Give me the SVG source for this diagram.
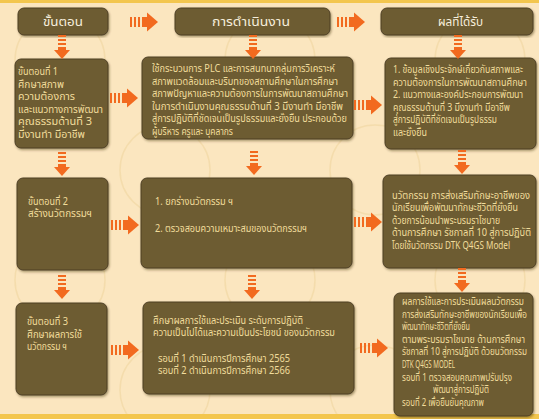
<svg xmlns="http://www.w3.org/2000/svg" width="539" height="419" viewBox="0 0 539 419">
<defs>
<style>
.bg{fill:#fbe6bf}
.box{fill:#6d5b33;stroke:#4f4124;stroke-width:1}
.hd{font-family:"Noto Sans Thai","Noto Sans","DejaVu Sans",sans-serif;font-size:12.5px;fill:#f6eedc}
.t{font-family:"Noto Sans Thai","Noto Sans","DejaVu Sans",sans-serif;font-size:10px;fill:#f1dd9c}
.ar{fill:#f26a1f}
.pat{fill:none;stroke:#f3d9a8;stroke-width:1.5;opacity:0.8}
</style>
<g id="harrow"><rect class="ar" x="0" y="-5" width="2" height="10"/><rect class="ar" x="4" y="-5" width="2" height="10"/><rect class="ar" x="8" y="-5" width="2" height="10"/><rect class="ar" x="12" y="-5" width="6" height="10"/><polygon class="ar" points="17,-9.5 28,0 17,9.5"/></g>
<g id="varrow"><rect class="ar" x="-4" y="0" width="8" height="2"/><rect class="ar" x="-4" y="4" width="8" height="2"/><rect class="ar" x="-4" y="8" width="8" height="2"/><rect class="ar" x="-4" y="12" width="8" height="4"/><polygon class="ar" points="-8,15 8,15 0,24"/></g>
<filter id="sh" x="-5%" y="-5%" width="112%" height="115%"><feDropShadow dx="1" dy="1.5" stdDeviation="1.2" flood-color="#3a2c10" flood-opacity="0.45"/></filter>
</defs>
<rect class="bg" x="0" y="0" width="539" height="419"/>
<g id="pattern">
<circle class="pat" cx="60" cy="60" r="45"/><circle class="pat" cx="270" cy="60" r="45"/><circle class="pat" cx="480" cy="60" r="45"/>
<circle class="pat" cx="165" cy="170" r="45"/><circle class="pat" cx="375" cy="170" r="45"/>
<circle class="pat" cx="60" cy="280" r="45"/><circle class="pat" cx="270" cy="280" r="45"/><circle class="pat" cx="480" cy="280" r="45"/>
<circle class="pat" cx="165" cy="390" r="45"/><circle class="pat" cx="375" cy="390" r="45"/>
</g>
<rect x="0" y="0" width="539" height="3" fill="#f3c64e"/>
<rect x="0" y="414" width="539" height="5" fill="#f3c64e"/>

<g id="h1"><rect class="box" x="18" y="8" width="90" height="27" rx="6" filter="url(#sh)"/><text class="hd" x="43" y="26" textLength="40" lengthAdjust="spacingAndGlyphs">ขั้นตอน</text></g>
<g id="h2"><rect class="box" x="175" y="8" width="155" height="27" rx="6" filter="url(#sh)"/><text class="hd" x="212" y="26" textLength="78" lengthAdjust="spacingAndGlyphs">การดำเนินงาน</text></g>
<g id="h3"><rect class="box" x="381" y="8" width="152" height="27" rx="6" filter="url(#sh)"/><text class="hd" x="438" y="26" textLength="45" lengthAdjust="spacingAndGlyphs">ผลที่ได้รับ</text></g>

<g id="s1"><rect class="box" x="15" y="59" width="93" height="89" rx="6" filter="url(#sh)"/>
<text class="t" x="18" y="75" textLength="40" lengthAdjust="spacingAndGlyphs">ขั้นตอนที่ 1</text>
<text class="t" x="18" y="88" textLength="46" lengthAdjust="spacingAndGlyphs">ศึกษาสภาพ</text>
<text class="t" x="18" y="100" textLength="57" lengthAdjust="spacingAndGlyphs">ความต้องการ</text>
<text class="t" x="18" y="113" textLength="85" lengthAdjust="spacingAndGlyphs">และแนวทางการพัฒนา</text>
<text class="t" x="18" y="125" textLength="74" lengthAdjust="spacingAndGlyphs">คุณธรรมด้านที่ 3</text>
<text class="t" x="18" y="138" textLength="67" lengthAdjust="spacingAndGlyphs">มีงานทำ มีอาชีพ</text></g>

<g id="o1"><rect class="box" x="142" y="57" width="211" height="82" rx="6" filter="url(#sh)"/>
<text class="t" x="152" y="72" textLength="183" lengthAdjust="spacingAndGlyphs">ใช้กระบวนการ PLC และการสนทนากลุ่มการวิเคราะห์</text>
<text class="t" x="152" y="85" textLength="186" lengthAdjust="spacingAndGlyphs">สภาพแวดล้อมและบริบทของสถานศึกษาในการศึกษา</text>
<text class="t" x="152" y="97" textLength="196" lengthAdjust="spacingAndGlyphs">สภาพปัญหาและความต้องการในการพัฒนาสถานศึกษา</text>
<text class="t" x="152" y="110" textLength="191" lengthAdjust="spacingAndGlyphs">ในการดำเนินงานคุณธรรมด้านที่ 3 มีงานทำ มีอาชีพ</text>
<text class="t" x="152" y="122" textLength="195" lengthAdjust="spacingAndGlyphs">สู่การปฏิบัติที่ชัดเจนเป็นรูปธรรมและยั่งยืน ประกอบด้วย</text>
<text class="t" x="152" y="135" textLength="81" lengthAdjust="spacingAndGlyphs">ผู้บริหาร ครูและ บุคลากร</text></g>

<g id="r1"><rect class="box" x="385" y="58" width="151" height="91" rx="6" filter="url(#sh)"/>
<text class="t" x="393" y="73" textLength="130" lengthAdjust="spacingAndGlyphs">1. ข้อมูลเชิงประจักษ์เกี่ยวกับสภาพและ</text>
<text class="t" x="393" y="86" textLength="134" lengthAdjust="spacingAndGlyphs">ความต้องการในการพัฒนาสถานศึกษา</text>
<text class="t" x="393" y="98" textLength="130" lengthAdjust="spacingAndGlyphs">2. แนวทางและองค์ประกอบการพัฒนา</text>
<text class="t" x="393" y="111" textLength="117" lengthAdjust="spacingAndGlyphs">คุณธรรมด้านที่ 3 มีงานทำ มีอาชีพ</text>
<text class="t" x="393" y="123" textLength="104" lengthAdjust="spacingAndGlyphs">สู่การปฏิบัติที่ชัดเจนเป็นรูปธรรม</text>
<text class="t" x="393" y="136" textLength="34" lengthAdjust="spacingAndGlyphs">และยั่งยืน</text></g>

<g id="s2"><rect class="box" x="17" y="178" width="91" height="92" rx="6" filter="url(#sh)"/>
<text class="t" x="28" y="205" textLength="40" lengthAdjust="spacingAndGlyphs">ขั้นตอนที่ 2</text>
<text class="t" x="28" y="217" textLength="64" lengthAdjust="spacingAndGlyphs">สร้างนวัตกรรมฯ</text></g>

<g id="o2"><rect class="box" x="141" y="178" width="211" height="90" rx="6" filter="url(#sh)"/>
<text class="t" x="155" y="205" textLength="78" lengthAdjust="spacingAndGlyphs">1. ยกร่างนวัตกรรม ฯ</text>
<text class="t" x="155" y="232" textLength="152" lengthAdjust="spacingAndGlyphs">2. ตรวจสอบความเหมาะสมของนวัตกรรมฯ</text></g>

<g id="r2"><rect class="box" x="383" y="175" width="153" height="93" rx="6" filter="url(#sh)"/>
<text class="t" x="392" y="199" textLength="138" lengthAdjust="spacingAndGlyphs">นวัตกรรม การส่งเสริมทักษะอาชีพของ</text>
<text class="t" x="392" y="211" textLength="126" lengthAdjust="spacingAndGlyphs">นักเรียนเพื่อพัฒนาทักษะชีวิตที่ยั่งยืน</text>
<text class="t" x="392" y="224" textLength="108" lengthAdjust="spacingAndGlyphs">ด้วยการน้อมนำพระบรมราโชบาย</text>
<text class="t" x="392" y="236" textLength="139" lengthAdjust="spacingAndGlyphs">ด้านการศึกษา รัชกาลที่ 10 สู่การปฏิบัติ</text>
<text class="t" x="392" y="249" textLength="118" lengthAdjust="spacingAndGlyphs">โดยใช้นวัตกรรม DTK Q4GS Model</text></g>

<g id="s3"><rect class="box" x="16" y="303" width="91" height="92" rx="6" filter="url(#sh)"/>
<text class="t" x="27" y="325" textLength="41" lengthAdjust="spacingAndGlyphs">ขั้นตอนที่ 3</text>
<text class="t" x="27" y="338" textLength="55" lengthAdjust="spacingAndGlyphs">ศึกษาผลการใช้</text>
<text class="t" x="27" y="350" textLength="40" lengthAdjust="spacingAndGlyphs">นวัตกรรม ฯ</text></g>

<g id="o3"><rect class="box" x="143" y="302" width="211" height="92" rx="6" filter="url(#sh)"/>
<text class="t" x="153" y="324" textLength="150" lengthAdjust="spacingAndGlyphs">ศึกษาผลการใช้และประเมิน ระดับการปฏิบัติ</text>
<text class="t" x="153" y="336" textLength="182" lengthAdjust="spacingAndGlyphs">ความเป็นไปได้และความเป็นประโยชน์ ของนวัตกรรม</text>
<text class="t" x="158" y="362" textLength="132" lengthAdjust="spacingAndGlyphs">รอบที่ 1 ดำเนินการปีการศึกษา 2565</text>
<text class="t" x="158" y="374" textLength="132" lengthAdjust="spacingAndGlyphs">รอบที่ 2 ดำเนินการปีการศึกษา 2566</text></g>

<g id="r3"><rect class="box" x="394" y="293" width="139" height="123" rx="6" filter="url(#sh)"/>
<text class="t" x="402" y="305" textLength="122" lengthAdjust="spacingAndGlyphs">ผลการใช้และการประเมินผลนวัตกรรม</text>
<text class="t" x="402" y="318" textLength="125" lengthAdjust="spacingAndGlyphs">การส่งเสริมทักษะอาชีพของนักเรียนเพื่อ</text>
<text class="t" x="402" y="330" textLength="68" lengthAdjust="spacingAndGlyphs">พัฒนาทักษะชีวิตที่ยั่งยืน</text>
<text class="t" x="402" y="343" textLength="123" lengthAdjust="spacingAndGlyphs">ตามพระบรมราโชบาย ด้านการศึกษา</text>
<text class="t" x="402" y="355" textLength="125" lengthAdjust="spacingAndGlyphs">รัชกาลที่ 10 สู่การปฏิบัติ ด้วยนวัตกรรม</text>
<text class="t" x="402" y="368" textLength="53" lengthAdjust="spacingAndGlyphs">DTK Q4GS MODEL</text>
<text class="t" x="402" y="381" textLength="110" lengthAdjust="spacingAndGlyphs">รอบที่ 1 ตรวจสอบคุณภาพปรับปรุง</text>
<text class="t" x="433" y="393" textLength="56" lengthAdjust="spacingAndGlyphs">พัฒนาสู่การปฏิบัติ</text>
<text class="t" x="402" y="406" textLength="82" lengthAdjust="spacingAndGlyphs">รอบที่ 2 เพื่อยืนยันคุณภาพ</text></g>

<g id="connectors">
<use href="#harrow" x="130" y="22"/>
<use href="#harrow" x="337" y="22"/>
<use href="#varrow" x="62" y="35"/>
<use href="#varrow" x="253" y="35"/>
<use href="#varrow" x="458" y="35"/>
<use href="#harrow" x="110" y="98"/>
<use href="#harrow" x="354" y="105"/>
<use href="#varrow" x="62" y="152"/>
<use href="#varrow" x="254" y="151"/>
<use href="#varrow" x="462" y="150"/>
<use href="#harrow" x="111" y="225"/>
<use href="#harrow" x="354" y="222"/>
<use href="#varrow" x="62" y="275"/>
<use href="#varrow" x="252" y="275"/>
<use href="#varrow" x="462" y="268"/>
<use href="#harrow" x="111" y="350"/>
<use href="#harrow" x="360" y="348"/>
</g>
</svg>
